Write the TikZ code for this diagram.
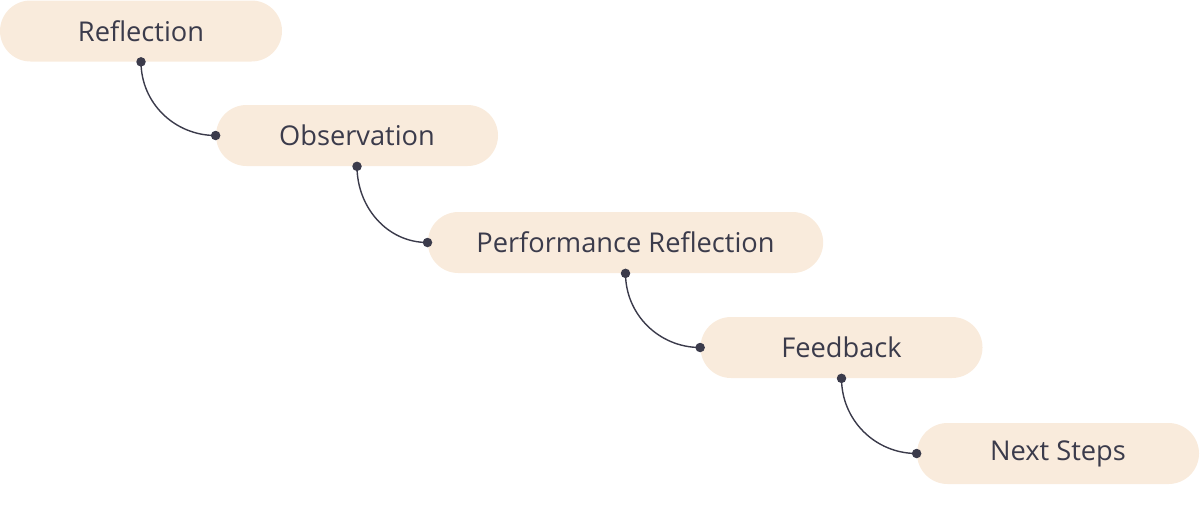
\documentclass[tikz,border=0pt]{standalone}
\usepackage{fontspec}
\setmainfont{Open Sans}
\definecolor{pillfill}{HTML}{F9EBDC}
\definecolor{inkdark}{HTML}{3B3B4B}
\begin{document}
\begin{tikzpicture}[
  stage/.style={
    rectangle, rounded corners=0.61cm, fill=pillfill,
    minimum width=5.64cm, minimum height=1.22cm,
    inner xsep=0.97cm, % padding for the long label
    text=inkdark, font=\fontsize{15.5}{18}\selectfont
  },
  link/.style={draw=inkdark, line width=0.8pt},
  dot/.style={fill=inkdark}
]
\useasboundingbox (0,0) rectangle (24,-10.1);

% --- Stages ---
\foreach \t/\x/\y [count=\i] in {Reflection/2.82/-0.62, Observation/7.14/-2.71,
    Performance Reflection/12.51/-4.85, Feedback/16.83/-6.95, Next Steps/21.16/-9.07} {
  \node[stage] (s\i) at (\x,\y) {\t};
}

% --- Links ---
\foreach \i [evaluate=\i as \j using int(\i+1)] in {1,...,4} {
  \draw[link] (s\i.south) to[out=-90, in=180] (s\j.west);
  \fill[dot] (s\i.south) circle (0.095);
  \fill[dot] (s\j.west) circle (0.095);
}

\end{tikzpicture}
\end{document}
